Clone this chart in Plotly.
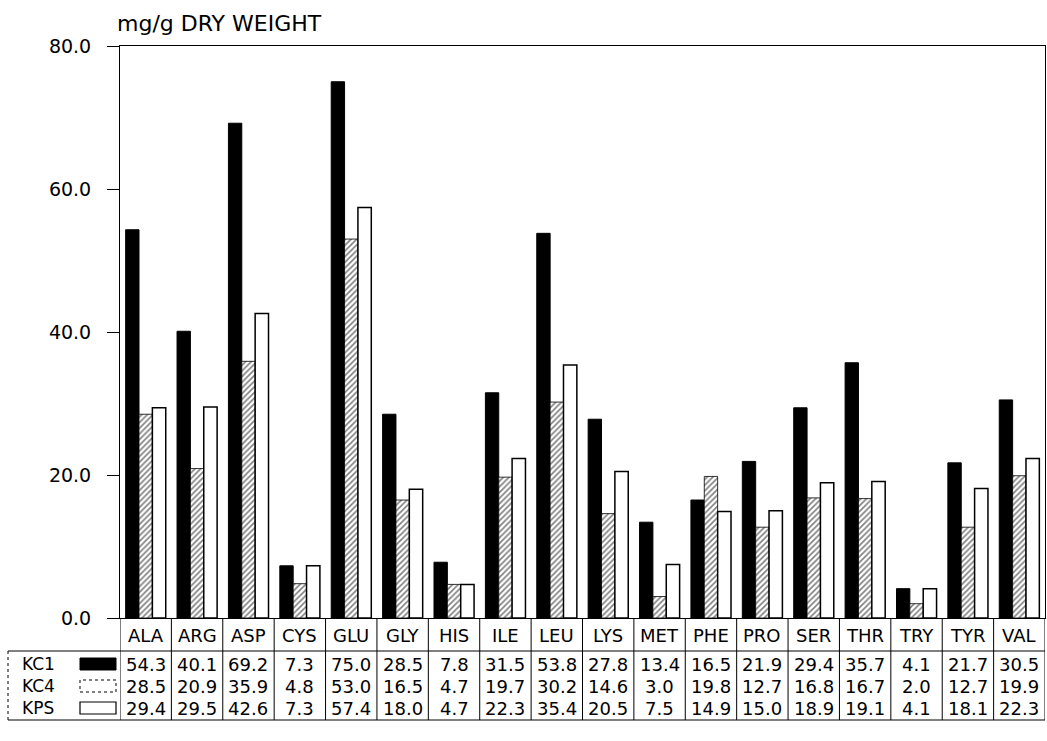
import plotly.graph_objects as go

categories = ["ALA", "ARG", "ASP", "CYS", "GLU", "GLY", "HIS", "ILE", "LEU",
              "LYS", "MET", "PHE", "PRO", "SER", "THR", "TRY", "TYR", "VAL"]
kc1 = [54.3, 40.1, 69.2, 7.3, 75.0, 28.5, 7.8, 31.5, 53.8, 27.8, 13.4, 16.5, 21.9, 29.4, 35.7, 4.1, 21.7, 30.5]
kc4 = [28.5, 20.9, 35.9, 4.8, 53.0, 16.5, 4.7, 19.7, 30.2, 14.6, 3.0, 19.8, 12.7, 16.8, 16.7, 2.0, 12.7, 19.9]
kps = [29.4, 29.5, 42.6, 7.3, 57.4, 18.0, 4.7, 22.3, 35.4, 20.5, 7.5, 14.9, 15.0, 18.9, 19.1, 4.1, 18.1, 22.3]
series_names = ["KC1", "KC4", "KPS"]
y_ticks = [0, 20, 40, 60, 80]
y_title = "mg/g DRY WEIGHT"

FONT = "DejaVu Sans"
W, H = 1047, 741
ML, MR, MT, MB = 120, 2, 46, 123
PW = W - ML - MR
PH = H - MT - MB


def py(pix):
    return (H - MB - pix) / PH


def px(pix):
    return (pix - ML) / PW


fig = go.Figure()
fig.add_trace(go.Bar(x=categories, y=kc1, name="KC1",
                     marker=dict(color="black", line=dict(color="black", width=1))))
fig.add_trace(go.Bar(x=categories, y=kc4, name="KC4",
                     marker=dict(color="white", line=dict(color="black", width=0.8),
                                 pattern=dict(shape="/", fgcolor="black", bgcolor="white",
                                              size=4, solidity=0.4))))
fig.add_trace(go.Bar(x=categories, y=kps, name="KPS",
                     marker=dict(color="white", line=dict(color="black", width=1.5))))

annotations = []
shapes = []
row_y = [py(664), py(686), py(708)]
header_y = py(635)
line_head = py(651)
line_bottom = py(720)
left_edge = px(8)

for i, c in enumerate(categories):
    annotations.append(dict(x=c, y=header_y, xref="x", yref="paper", text=c,
                            yanchor="middle", showarrow=False,
                            font=dict(family=FONT, size=18, color="black")))
for vals, ry in zip([kc1, kc4, kps], row_y):
    for c, v in zip(categories, vals):
        annotations.append(dict(x=c, y=ry, xref="x", yref="paper", text=f"{v:.1f}",
                                yanchor="middle", showarrow=False,
                                font=dict(family=FONT, size=18, color="black")))
for name, ry in zip(series_names, row_y):
    annotations.append(dict(x=px(20), y=ry, xref="paper", yref="paper", text=name,
                            xanchor="left", yanchor="middle", showarrow=False,
                            font=dict(family=FONT, size=17, color="black")))

# legend swatches
sw_h = 12 / PH
swatch_styles = [dict(fillcolor="black", line=dict(color="black", width=1)),
                 dict(fillcolor="white", line=dict(color="black", width=1, dash="dot")),
                 dict(fillcolor="white", line=dict(color="black", width=1.2))]
for ry, st in zip(row_y, swatch_styles):
    shapes.append(dict(type="rect", xref="paper", yref="paper", x0=px(80), x1=px(116),
                       y0=ry - sw_h / 2, y1=ry + sw_h / 2, **st))

# table grid lines
for i in range(len(categories) + 1):
    shapes.append(dict(type="line", xref="x", yref="paper", x0=i - 0.5, x1=i - 0.5,
                       y0=0, y1=line_bottom, line=dict(color="black", width=1)))
shapes.append(dict(type="line", xref="paper", yref="paper", x0=left_edge, x1=1,
                   y0=line_head, y1=line_head, line=dict(color="black", width=1)))
shapes.append(dict(type="line", xref="paper", yref="paper", x0=left_edge, x1=1,
                   y0=line_bottom, y1=line_bottom, line=dict(color="black", width=1)))
shapes.append(dict(type="line", xref="paper", yref="paper", x0=left_edge, x1=left_edge,
                   y0=line_head, y1=line_bottom, line=dict(color="black", width=1, dash="dot")))

annotations.append(dict(x=px(115), y=py(23), xref="paper", yref="paper", text=y_title,
                        xanchor="left", yanchor="middle", showarrow=False,
                        font=dict(family=FONT, size=22, color="black")))

fig.update_layout(
    width=W, height=H,
    margin=dict(l=ML, r=MR, t=MT, b=MB, pad=0),
    paper_bgcolor="white", plot_bgcolor="white",
    barmode="group", bargap=0.22, bargroupgap=0,
    showlegend=False,
    font=dict(family=FONT, color="black"),
    annotations=annotations,
    shapes=shapes,
    xaxis=dict(range=[-0.5, len(categories) - 0.5], showticklabels=False, ticks="",
               showline=True, linecolor="black", linewidth=1, mirror=True,
               showgrid=False, zeroline=False),
    yaxis=dict(range=[0, 80], tickvals=y_ticks, tickformat=".1f", ticks="outside",
               ticklen=12, tickcolor="black", tickwidth=1, ticklabelstandoff=12,
               tickfont=dict(family=FONT, size=19, color="black"),
               showline=True, linecolor="black", linewidth=1, mirror=True,
               showgrid=False, zeroline=False),
)

fig.write_html("out.html", config={"displayModeBar": False},
               post_script="document.body.style.margin='0';document.body.style.overflow='hidden';")
